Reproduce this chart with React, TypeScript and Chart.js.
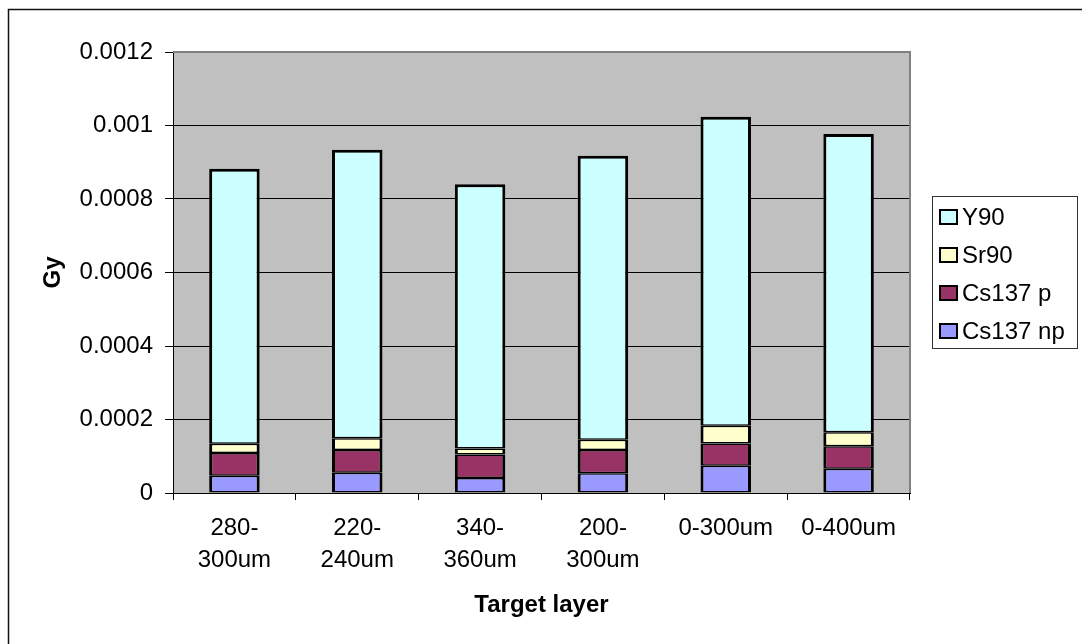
import React, { useEffect, useRef } from "react";
import { Chart, registerables } from "chart.js";

Chart.register(...registerables);

// Target layers (x categories)
const categories: (string | string[])[] = [
  ["280-", "300um"],
  ["220-", "240um"],
  ["340-", "360um"],
  ["200-", "300um"],
  "0-300um",
  "0-400um",
];

// Dose contributions in Gy, stacked bottom to top
const cs137np = [0.000047, 0.000055, 0.000041, 0.000054, 0.000074, 0.000066];
const cs137p = [0.000062, 0.000062, 0.000064, 0.000063, 0.000061, 0.000061];
const sr90 = [0.000025, 0.000032, 0.000016, 0.000028, 0.000048, 0.000038];
const y90 = [0.000748, 0.000785, 0.000719, 0.000773, 0.000841, 0.000812];

const yTicks = [0, 0.0002, 0.0004, 0.0006, 0.0008, 0.001, 0.0012];

const FONT = "'Liberation Sans', Arial, sans-serif";
const FS = 24;

const seriesStyle = [
  { label: "Cs137 np", data: cs137np, color: "#9999FF" },
  { label: "Cs137 p", data: cs137p, color: "#993366" },
  { label: "Sr90", data: sr90, color: "#FFFFCC" },
  { label: "Y90", data: y90, color: "#CCFFFF" },
];

const plotBackground = {
  id: "plotBackground",
  beforeDraw(chart: any) {
    const { ctx, chartArea: a } = chart;
    ctx.save();
    ctx.fillStyle = "#C0C0C0";
    ctx.fillRect(a.left, a.top, a.right - a.left, a.bottom - a.top);
    ctx.restore();
  },
  beforeDatasetsDraw(chart: any) {
    const { ctx, chartArea: a } = chart;
    ctx.save();
    ctx.strokeStyle = "#808080";
    ctx.lineWidth = 2;
    ctx.beginPath();
    ctx.moveTo(a.left, a.top);
    ctx.lineTo(a.right, a.top);
    ctx.lineTo(a.right, a.bottom);
    ctx.stroke();
    ctx.restore();
  },
};

const frameAndLegend = {
  id: "frameAndLegend",
  afterDraw(chart: any) {
    const { ctx, width, height } = chart;
    ctx.save();
    // chart frame (top and left edges)
    ctx.strokeStyle = "#111";
    ctx.lineWidth = 1.5;
    ctx.beginPath();
    ctx.moveTo(width, 9.5);
    ctx.lineTo(8.5, 9.5);
    ctx.lineTo(8.5, height);
    ctx.stroke();

    // legend box
    const bx = 932, by = 196, bw = 145, bh = 152;
    ctx.fillStyle = "#FFFFFF";
    ctx.fillRect(bx, by, bw, bh);
    ctx.strokeStyle = "#333";
    ctx.lineWidth = 1;
    ctx.strokeRect(bx + 0.5, by + 0.5, bw, bh);

    const items = [...seriesStyle].reverse();
    ctx.font = `${FS}px ${FONT}`;
    ctx.textBaseline = "middle";
    ctx.textAlign = "left";
    items.forEach((s, i) => {
      const cy = 217 + i * 38;
      ctx.fillStyle = s.color;
      ctx.fillRect(940, cy - 7, 17, 14);
      ctx.strokeStyle = "#000";
      ctx.lineWidth = 2;
      ctx.strokeRect(940, cy - 7, 17, 14);
      ctx.fillStyle = "#000";
      ctx.fillText(s.label, 962, cy + 1);
    });
    ctx.restore();
  },
};

export default function App() {
  const ref = useRef<HTMLCanvasElement | null>(null);

  useEffect(() => {
    if (!ref.current) return;
    const datasets = seriesStyle.map((s, i) => ({
      label: s.label,
      data: s.data,
      backgroundColor: s.color,
      borderColor: "#000",
      borderWidth: { top: i === 3 ? 3 : 1.5, bottom: 1.5, left: 3, right: 3 },
      borderSkipped: false as const,
      barPercentage: 0.411,
      categoryPercentage: 1,
    }));

    const chart = new Chart(ref.current, {
      type: "bar",
      data: { labels: categories, datasets },
      options: {
        responsive: false,
        animation: false,
        layout: { padding: { top: 52, right: 172, left: 0, bottom: 0 } },
        plugins: {
          legend: { display: false },
          tooltip: { enabled: false },
        },
        scales: {
          x: {
            stacked: true,
            grid: {
              offset: true,
              drawOnChartArea: false,
              drawTicks: true,
              tickLength: 7,
              color: "#000",
            },
            border: { color: "#000", width: 1 },
            ticks: {
              color: "#000",
              font: { family: FONT, size: FS, lineHeight: 1.33 },
              padding: 12,
              maxRotation: 0,
              autoSkip: false,
            },
            title: {
              display: true,
              text: "Target layer",
              color: "#000",
              font: { family: FONT, size: FS, weight: "bold" },
              padding: { top: 0, bottom: 24 },
            },
            afterFit(scale: any) {
              scale.height = 151;
            },
          },
          y: {
            stacked: true,
            min: 0,
            max: 0.0012,
            afterBuildTicks(scale: any) {
              scale.ticks = yTicks.map((v) => ({ value: v }));
            },
            grid: {
              color: "#000",
              lineWidth: 1,
              tickLength: 8,
              drawTicks: true,
            },
            border: { color: "#000", width: 1 },
            ticks: {
              color: "#000",
              font: { family: FONT, size: FS },
              padding: 12,
              callback: (v: any) => String(parseFloat(Number(v).toFixed(4))),
            },
            title: {
              display: true,
              text: "Gy",
              color: "#000",
              font: { family: FONT, size: FS, weight: "bold" },
              padding: { top: 39, bottom: 0 },
            },
            afterFit(scale: any) {
              scale.width = 173;
            },
          },
        },
      },
      plugins: [plotBackground, frameAndLegend],
    });
    return () => chart.destroy();
  }, []);

  return (
    <div style={{ position: "fixed", left: 0, top: 0, width: 1082, height: 644, background: "#fff" }}>
      <canvas ref={ref} width={1082} height={644} />
    </div>
  );
}
